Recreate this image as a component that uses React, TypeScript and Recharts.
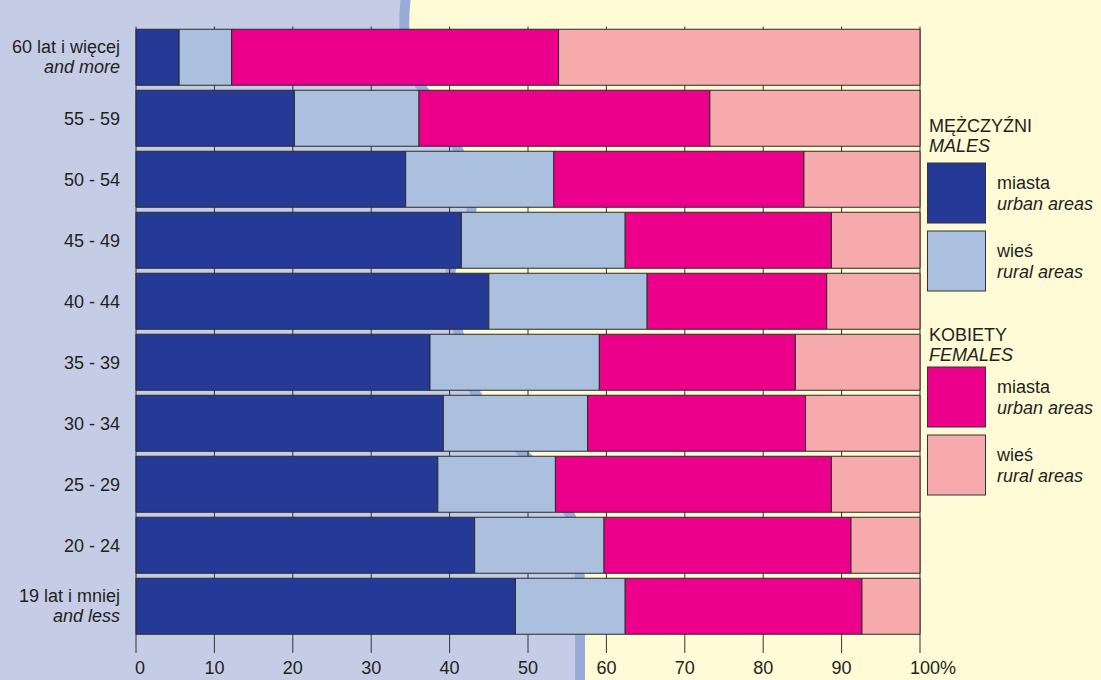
import React from 'react';
import { BarChart, Bar, XAxis, YAxis, CartesianGrid } from 'recharts';

const categories = ['60 lat i więcej', '55 - 59', '50 - 54', '45 - 49', '40 - 44', '35 - 39', '30 - 34', '25 - 29', '20 - 24', '19 lat i mniej'];
const categoriesEn = ['and more', '', '', '', '', '', '', '', '', 'and less'];

const malesUrban = [5.5, 20.2, 34.4, 41.5, 45.0, 37.5, 39.2, 38.5, 43.2, 48.4];
const malesRural = [6.7, 15.9, 18.9, 20.9, 20.2, 21.6, 18.4, 15.0, 16.5, 14.0];
const femalesUrban = [41.7, 37.1, 31.9, 26.3, 22.9, 25.0, 27.8, 35.2, 31.5, 30.2];
const femalesRural = [46.1, 26.8, 14.8, 11.3, 11.9, 15.9, 14.6, 11.3, 8.8, 7.4];

const xTicks = [0, 10, 20, 30, 40, 50, 60, 70, 80, 90, 100];

const seriesKeys = ['mu', 'mr', 'fu', 'fr'];
const seriesColors = ['#243a96', '#abbfdf', '#ec008b', '#f6aaab'];
const seriesNamesPl = ['miasta', 'wieś', 'miasta', 'wieś'];
const seriesNamesEn = ['urban areas', 'rural areas', 'urban areas', 'rural areas'];

const groupTitles = ['MĘŻCZYŹNI', 'KOBIETY'];
const groupTitlesEn = ['MALES', 'FEMALES'];

const data = categories.map((name, i) => ({
  name,
  mu: malesUrban[i],
  mr: malesRural[i],
  fu: femalesUrban[i],
  fr: femalesRural[i],
}));

const FONT = '"Liberation Sans", Arial, Helvetica, sans-serif';
const TEXT = '#231f20';
const LINE = '#333333';

const YTick = (props: any) => {
  const { x, y, payload, index } = props;
  const en = categoriesEn[index];
  if (en) {
    return (
      <g>
        <text x={x} y={y - 4.5} textAnchor="end" fontFamily={FONT} fontSize={18} fill={TEXT}>{payload.value}</text>
        <text x={x} y={y + 16} textAnchor="end" fontFamily={FONT} fontSize={18} fontStyle="italic" fill={TEXT}>{en}</text>
      </g>
    );
  }
  return (
    <text x={x} y={y + 6.5} textAnchor="end" fontFamily={FONT} fontSize={18} fill={TEXT}>{payload.value}</text>
  );
};

const XTick = (props: any) => {
  const { x, y, payload } = props;
  const v = payload.value;
  let anchor: any = 'middle';
  let dx = 0;
  let label = String(v);
  if (v === 0) { anchor = 'start'; dx = -1; }
  if (v === 100) { anchor = 'start'; dx = -10; label = '100%'; }
  return (
    <text x={x + dx} y={y} dy={21} textAnchor={anchor} fontFamily={FONT} fontSize={18} fill={TEXT}>{label}</text>
  );
};

const headerBaselines = [131.5, 340.5];
const swatchTops = [163, 231, 367, 435];

const LegendBlock = () => (
  <svg width={1101} height={680} style={{ position: 'absolute', left: 0, top: 0 }}>
    {groupTitles.map((t, g) => (
      <g key={t}>
        <text x={929} y={headerBaselines[g]} fontFamily={FONT} fontSize={18} fill={TEXT}>{t}</text>
        <text x={929} y={headerBaselines[g] + 20.5} fontFamily={FONT} fontSize={18} fontStyle="italic" fill={TEXT}>{groupTitlesEn[g]}</text>
      </g>
    ))}
    {seriesKeys.map((k, i) => (
      <g key={k}>
        <rect x={927.5} y={swatchTops[i]} width={58} height={60} fill={seriesColors[i]} stroke={LINE} strokeWidth={1} />
        <text x={997} y={swatchTops[i] + 26} fontFamily={FONT} fontSize={18} fill={TEXT}>{seriesNamesPl[i]}</text>
        <text x={997} y={swatchTops[i] + 46.5} fontFamily={FONT} fontSize={18} fontStyle="italic" fill={TEXT}>{seriesNamesEn[i]}</text>
      </g>
    ))}
  </svg>
);

const swoosh = 'M406,-5 C402,30 404,60 420,85 C435,108 452,130 462,160 C470,185 476,205 468,225 C460,245 448,262 450,285 C452,310 460,340 470,380 C480,410 505,435 525,455 C550,480 568,505 576,530 C581,550 580,600 580,690';
const lavenderArea = swoosh + ' L0,690 L0,-5 Z';

export default function App() {
  return (
    <div style={{ position: 'absolute', left: 0, top: 0, width: 1101, height: 680, overflow: 'hidden', background: '#fffbd6' }}>
      <svg width={1101} height={680} style={{ position: 'absolute', left: 0, top: 0 }}>
        <rect x={0} y={0} width={1101} height={680} fill="#fffbd6" />
        <path d={lavenderArea} fill="#c5cde6" />
        <path d={swoosh} fill="none" stroke="#98acd6" strokeWidth={10} />
      </svg>
      <BarChart
        width={1101}
        height={680}
        data={data}
        layout="vertical"
        margin={{ top: 10, right: 181, bottom: 0, left: 0 }}
        barCategoryGap={2.75}
        style={{ position: 'absolute', left: 0, top: 0 }}
      >
        <CartesianGrid horizontal={false} vertical stroke={LINE} strokeWidth={1} />
        <XAxis
          xAxisId="top"
          orientation="top"
          type="number"
          domain={[0, 100]}
          ticks={xTicks}
          height={16.5}
          tickSize={16.5}
          axisLine={false}
          tickLine={{ stroke: LINE }}
          tick={false}
        />
        <XAxis
          type="number"
          domain={[0, 100]}
          ticks={xTicks}
          height={43.5}
          tickSize={16.5}
          tickMargin={0}
          axisLine={false}
          tickLine={{ stroke: LINE }}
          tick={<XTick />}
          interval={0}
        />
        <YAxis
          type="category"
          dataKey="name"
          width={136}
          tickSize={0}
          tickMargin={16}
          axisLine={false}
          tickLine={false}
          tick={<YTick />}
          interval={0}
        />
        {seriesKeys.map((k, i) => (
          <Bar key={k} dataKey={k} stackId="a" fill={seriesColors[i]} stroke="#2b2b2b" strokeWidth={1} isAnimationActive={false} />
        ))}
      </BarChart>
      <LegendBlock />
    </div>
  );
}
